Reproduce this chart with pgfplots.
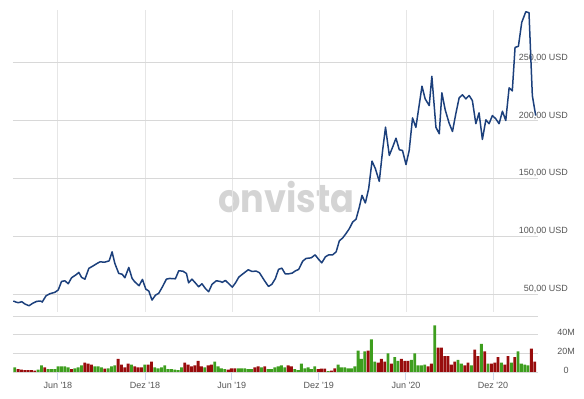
\documentclass[border=0pt]{standalone}
\usepackage{pgfplots}
\pgfplotsset{compat=1.18}
\usepackage{fontspec}
\setmainfont{Liberation Sans}
\newfontfamily\wmfont{Poppins}
\definecolor{lineblue}{RGB}{28,64,124}
\definecolor{volgreen}{RGB}{62,158,30}
\definecolor{volred}{RGB}{152,12,12}
\definecolor{hgrid}{RGB}{216,216,216}
\definecolor{vgrid}{RGB}{230,230,230}
\definecolor{tickc}{RGB}{204,214,235}
\definecolor{labc}{RGB}{85,85,85}
\definecolor{wmc}{RGB}{212,212,212}
\begin{document}
\begin{tikzpicture}[x=1pt,y=1pt]
\path[use as bounding box] (0,0) rectangle (584,399);
\node[anchor=base west, inner sep=0, text=wmc, xscale=0.9, font=\wmfont\bfseries\fontsize{39}{39}\selectfont] at (218,186) {onvista};
% price panel
\begin{axis}[
  at={(13pt,87pt)}, anchor=south west, scale only axis,
  width=525pt, height=302pt,
  xmin=1.907, xmax=38.06, ymin=34.5, ymax=295.5,
  axis line style={draw=none},
  xtick={5,11,17,23,29,35}, xticklabels={},
  ytick={50,100,150,200,250},
  yticklabels={{50,00 USD},{100,00 USD},{150,00 USD},{200,00 USD},{250,00 USD}},
  yticklabel pos=right,
  major tick length=0pt,
  xmajorgrids, ymajorgrids,
  x grid style={vgrid, line width=0.9pt},
  y grid style={hgrid, line width=0.9pt},
  yticklabel style={anchor=east, xshift=30pt, yshift=5pt, inner sep=0pt, text=labc, font=\fontsize{9}{10}\selectfont},
]
\addplot[lineblue, line width=1.5pt, line join=round] coordinates {
(1.93,44.0) (2.11,43.1) (2.27,42.5) (2.51,43.4) (2.73,41.4) (3.01,39.9) (3.26,42.0) (3.54,43.7) (3.81,44.0) (3.92,43.1)
(4.18,48.5) (4.45,50.3) (4.79,51.5) (5.02,53.5) (5.25,60.9) (5.48,61.5) (5.71,58.9) (5.94,64.1) (6.24,66.6) (6.44,68.7)
(6.63,64.4) (6.86,62.9) (7.13,72.2) (7.43,74.4) (7.70,76.5) (7.89,77.8) (8.23,77.6) (8.53,78.7) (8.73,86.5) (8.92,76.5)
(9.19,67.8) (9.42,67.2) (9.61,64.1) (9.88,73.0) (10.11,63.5) (10.29,60.6) (10.59,57.2) (10.82,62.7) (11.05,54.3) (11.26,52.6)
(11.48,44.8) (11.72,49.1) (11.94,50.6) (12.20,56.3) (12.47,62.9) (12.70,63.5) (13.09,63.2) (13.32,70.1) (13.61,69.8) (13.85,67.8)
(14.00,59.7) (14.23,62.9) (14.46,59.7) (14.69,56.3) (14.92,58.9) (15.15,54.9) (15.38,52.0) (15.61,58.4) (15.91,61.5) (16.18,60.9)
(16.32,60.1) (16.53,61.8) (16.75,59.2) (17.01,56.0) (17.23,59.7) (17.46,64.7) (17.74,67.5) (18.11,71.0) (18.35,69.6) (18.66,69.8)
(18.88,68.4) (19.23,61.5) (19.50,56.6) (19.73,58.4) (19.98,63.5) (20.19,71.3) (20.42,72.4) (20.65,67.5) (20.90,67.5) (21.13,68.1)
(21.36,70.1) (21.58,71.3) (21.86,78.5) (22.09,80.8) (22.44,81.3) (22.71,83.9) (22.94,80.2) (23.17,77.0) (23.42,82.2) (23.65,83.9)
(23.92,83.9) (24.16,86.5) (24.38,96.0) (24.61,98.5) (24.84,102.3) (25.07,106.6) (25.30,112.3) (25.53,114.7) (25.76,125.3) (25.94,135.3)
(26.17,128.7) (26.40,141.1) (26.63,164.9) (26.86,158.4) (27.13,147.4) (27.36,174.1) (27.56,194.2) (27.82,169.8) (28.05,177.0) (28.28,184.7)
(28.51,174.7) (28.73,174.1) (28.97,161.9) (29.19,174.1) (29.42,202.2) (29.65,194.0) (30.07,229.6) (30.29,218.7) (30.57,212.9) (30.75,238.2)
(31.03,194.2) (31.26,188.5) (31.44,223.9) (31.67,209.2) (31.94,197.7) (32.17,190.5) (32.40,205.8) (32.63,219.6) (32.86,222.2) (33.09,218.7)
(33.32,221.6) (33.54,217.2) (33.78,197.2) (34.00,206.6) (34.23,183.6) (34.47,200.6) (34.69,197.2) (34.92,204.3) (35.15,201.5) (35.38,197.2)
(35.61,208.0) (35.84,200.0) (36.07,228.2) (36.29,225.6) (36.48,263.2) (36.71,264.1) (36.94,284.8) (37.22,294.0) (37.44,293.1) (37.67,221.6)
(37.90,204.3)
};
\end{axis}
% volume panel
\begin{axis}[
  at={(13pt,27pt)}, anchor=south west, scale only axis,
  width=525pt, height=56pt,
  xmin=-0.54, xmax=156.99, ymin=0, ymax=60,
  axis line style={draw=none},
  xtick={12.93,39.07,65.07,91.21,117.36,143.5},
  xticklabels={Jun \textquotesingle18,Dez \textquotesingle18,Jun \textquotesingle19,Dez \textquotesingle19,Jun \textquotesingle20,Dez \textquotesingle20},
  xtick pos=bottom, tick align=outside,
  major tick length=8pt,
  xtick style={draw=tickc, line width=0.9pt},
  ytick={0,20,40,60}, yticklabels={0,20M,40M,},
  ytick style={draw=none},
  yticklabel pos=right,
  ymajorgrids,
  y grid style={hgrid, line width=0.9pt},
  yticklabel style={anchor=center, xshift=20pt, yshift=2pt, inner sep=0pt, text=labc, font=\fontsize{9}{10}\selectfont},
  xticklabel style={text=labc, font=\fontsize{9}{10}\selectfont, yshift=1pt},
  ybar, bar width=0.86,
]
\addplot[fill=volgreen, draw=none, bar shift=0pt] coordinates {
(0,5) (7,2.5) (8,7) (10,3) (11,3) (12,3) (13,6) (14,6) (15,6) (16,5) (18,4) (19,5) (20,7) (24,6) (25,6) (26,5)
(28,4) (29,6) (30,7) (35,8) (39,8) (42,5) (43,4) (44,5) (45,7) (46,3) (47,3) (48,2.5) (49,2) (50,5) (57,5)
(60,11) (61,6) (62,4) (63,3) (67,4) (68,4) (69,4) (70,3) (71,3) (74,5) (76,3) (77,3) (78,5) (79,6) (80,7) (81,5)
(84,3) (85,2) (86,9) (87,4) (88,5) (89,3) (90,6) (94,1) (97,8) (98,5) (99,5) (100,4) (101,4) (102,6) (103,23)
(104,14) (105,22) (107,35) (108,11) (112,20) (114,16) (115,12) (119,13) (120,20) (121,7) (122,7) (123,8) (126,50)
(133,13) (134,9) (137,7) (140,30) (142,9) (146,10) (149,10) (151,22) (152,9) (153,8) (154,7)
};
\addplot[fill=volred, draw=none, bar shift=0pt] coordinates {
(1,3) (2,2.5) (3,2) (4,2) (5,2) (6,1.5) (9,5) (17,3) (21,10) (22,9) (23,8) (27,3.5) (31,14) (32,8) (33,5) (34,9)
(36,6) (37,5) (38,5) (40,8) (41,11) (51,10) (52,8) (53,6) (54,7) (55,12) (56,6) (58,7) (59,8) (64,2.5) (65,4) (66,4)
(72,5) (73,6) (75,6) (82,7) (83,6) (91,3) (92,3.5) (93,3.5) (95,1.5) (96,4) (106,23) (109,10) (110,14) (111,11)
(113,9) (116,14) (117,12) (118,12) (124,6) (125,9) (127,26) (128,26) (129,17) (130,17) (131,8) (132,11) (135,7)
(136,10) (138,24) (139,17) (141,22) (143,9) (144,10) (145,16) (147,8) (148,17) (150,16) (155,25) (156,11)
};
\end{axis}
\end{tikzpicture}
\end{document}
